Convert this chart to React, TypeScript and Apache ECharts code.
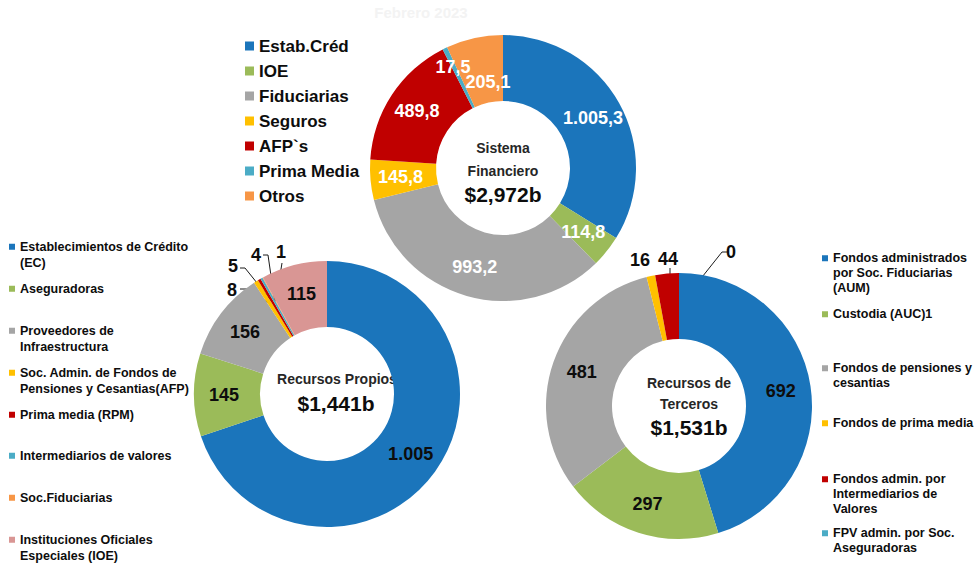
import React, { useEffect, useRef } from "react";
import * as echarts from "echarts";

const FONT = '"Liberation Sans", Arial, Helvetica, sans-serif';

// ---------------- data ----------------
const headerText = "Febrero 2023";

const sysCategories = ["Estab.Créd", "IOE", "Fiduciarias", "Seguros", "AFP`s", "Prima Media", "Otros"];
const sysValues = [1005.3, 114.8, 993.2, 145.8, 489.8, 17.5, 205.1];
const sysColors = ["#1B75BB", "#9BBB59", "#A5A5A5", "#FFC000", "#C00000", "#4BACC6", "#F79646"];
const sysCenterLines = ["Sistema", "Financiero"];
const sysTotal = "$2,972b";

const propCategories = [
  "Establecimientos de Crédito (EC)",
  "Aseguradoras",
  "Proveedores de Infraestructura",
  "Soc. Admin. de Fondos de Pensiones y Cesantias(AFP)",
  "Prima media (RPM)",
  "Intermediarios de valores",
  "Soc.Fiduciarias",
  "Instituciones Oficiales Especiales (IOE)",
];
const propLegendLabels = [
  "Establecimientos de Crédito\n(EC)",
  "Aseguradoras",
  "Proveedores de\nInfraestructura",
  "Soc. Admin. de Fondos de\nPensiones y Cesantias(AFP)",
  "Prima media (RPM)",
  "Intermediarios de valores",
  "Soc.Fiduciarias",
  "Instituciones Oficiales\nEspeciales (IOE)",
];
const propValues = [1005, 145, 156, 8, 5, 4, 1, 115];
const propColors = ["#1B75BB", "#9BBB59", "#A5A5A5", "#FFC000", "#C00000", "#4BACC6", "#F79646", "#D99694"];
const propCenterLines = ["Recursos Propios"];
const propTotal = "$1,441b";

const terCategories = [
  "Fondos administrados por Soc. Fiduciarias (AUM)",
  "Custodia (AUC)1",
  "Fondos de pensiones y cesantias",
  "Fondos de prima media",
  "Fondos admin. por Intermediarios de Valores",
  "FPV admin. por Soc. Aseguradoras",
];
const terLegendLabels = [
  "Fondos administrados\npor Soc. Fiduciarias\n(AUM)",
  "Custodia (AUC)1",
  "Fondos de pensiones y\ncesantias",
  "Fondos de prima media",
  "Fondos admin. por\nIntermediarios de\nValores",
  "FPV admin. por Soc.\nAseguradoras",
];
const terValues = [692, 297, 481, 16, 44, 0];
const terColors = ["#1B75BB", "#9BBB59", "#A5A5A5", "#FFC000", "#C00000", "#4BACC6"];
const terCenterLines = ["Recursos de", "Terceros"];
const terTotal = "$1,531b";

// ---------------- layout ----------------
const RADIUS = [67, 133];
const SYS = { cx: 503, cy: 168 };
const PROP = { cx: 327, cy: 394 };
const TER = { cx: 679, cy: 406 };

const propLegendY = [245, 287, 329, 371, 413, 454, 496, 538];
const terLegendY = [257, 313, 367, 422, 478, 532];

type Override = { at: [number, number]; line?: number[][]; r?: number };
const sysOverrides: Record<number, Override> = {
  5: { at: [453, 67] },
  6: { at: [488, 82] },
};
const propOverrides: Record<number, Override> = {
  3: { at: [232, 290], line: [[248, 289], [240, 289]], r: 106 },
  4: { at: [233, 266], line: [[245, 268], [240, 268]], r: 106 },
  5: { at: [256, 255], line: [[268, 255], [263, 255]], r: 106 },
  6: { at: [281, 252], line: [[282, 263]], r: 106 },
};
const terOverrides: Record<number, Override> = {
  3: { at: [640, 260] },
  4: { at: [668, 259], line: [[670, 268]] },
  5: { at: [731, 252], line: [[722, 252], [727, 252]] },
};

function esNum(v: number, d: number) {
  const s = v.toFixed(d);
  const [i, f] = s.split(".");
  const ii = i.replace(/\B(?=(\d{3})+(?!\d))/g, ".");
  return f ? ii + "," + f : ii;
}

function ringPoint(values: number[], idx: number, c: { cx: number; cy: number }, r: number) {
  const total = values.reduce((a, b) => a + b, 0);
  let before = 0;
  for (let i = 0; i < idx; i++) before += values[i];
  const ang = ((before + values[idx] / 2) / total) * Math.PI * 2;
  return [c.cx + r * Math.sin(ang), c.cy - r * Math.cos(ang)];
}

function makeLabelLayout(values: number[], c: { cx: number; cy: number }, ov: Record<number, Override>) {
  return (p: any) => {
    const o = ov[p.dataIndex];
    if (!o) return {};
    const res: any = { x: o.at[0], y: o.at[1], align: "center", verticalAlign: "middle" };
    if (o.line) {
      const r = o.r ?? (RADIUS[0] + RADIUS[1]) / 2;
      res.labelLinePoints = [ringPoint(values, p.dataIndex, c, r), ...o.line];
    }
    return res;
  };
}

function buildData(names: string[], values: number[], colors: string[], ov: Record<number, Override>, outsideAllowed: boolean) {
  return names.map((name, i) => {
    const item: any = { name, value: values[i], itemStyle: { color: colors[i] } };
    const o = ov[i];
    if (o && outsideAllowed) {
      item.label = { position: "outside" };
      item.labelLine = { show: o.line !== undefined };
    }
    return item;
  });
}

function txt(x: number, y: number, text: string, font: string, fill: string) {
  return {
    type: "text",
    x,
    y,
    silent: true,
    style: {
      text,
      font: font + " " + FONT,
      fill,
      align: "center",
      verticalAlign: "middle",
      textAlign: "center",
      textVerticalAlign: "middle",
    },
  };
}

// One legend per item so that each sits where the reference puts it. For wrapped
// names the icon is a square at the top of a taller (invisible) box, so that it
// lines up with the first line of the text.
function itemLegends(names: string[], labels: string[], ys: number[], left: number, fontSize: number, lh: number) {
  const sq = 6;
  return names.map((name, i) => {
    const n = labels[i].split("\n").length;
    const H = sq + (n - 1) * lh;
    const icon = n === 1 ? "rect" : `path://M0,0h${sq}v${sq}h-${sq}zM0,${H}h${sq}v0h-${sq}z`;
    return {
      left,
      top: ys[i] - fontSize / 2,
      padding: 0,
      orient: "vertical",
      icon,
      itemWidth: sq,
      itemHeight: H,
      selectedMode: false,
      data: [name],
      formatter: () => labels[i],
      textStyle: { fontFamily: FONT, fontSize, fontWeight: "bold", color: "#0D0D0D", lineHeight: lh },
    };
  });
}

export default function App() {
  const ref = useRef<HTMLDivElement>(null);
  useEffect(() => {
    document.body.style.margin = "0";
    const chart = echarts.init(ref.current!, undefined, { renderer: "svg" });
    const baseSeries = {
      type: "pie",
      radius: RADIUS,
      startAngle: 90,
      clockwise: true,
      avoidLabelOverlap: false,
      silent: true,
      itemStyle: { borderWidth: 0 },
      labelLine: { show: false, lineStyle: { color: "#1A1A1A", width: 1 } },
      emphasis: { disabled: true },
    };
    const option: any = {
      animation: false,
      backgroundColor: "#ffffff",
      legend: [
        {
          left: 245,
          top: 46 - 17 / 2,
          padding: 0,
          orient: "vertical",
          icon: "rect",
          itemWidth: 9,
          itemHeight: 9,
          itemGap: 8,
          selectedMode: false,
          data: sysCategories,
          textStyle: { fontFamily: FONT, fontSize: 17, fontWeight: "bold", color: "#0D0D0D" },
        },
        ...itemLegends(propCategories, propLegendLabels, propLegendY, 9, 12.5, 16),
        ...itemLegends(terCategories, terLegendLabels, terLegendY, 822, 12.5, 15),
      ],
      series: [
        {
          ...baseSeries,
          name: "Sistema Financiero",
          center: [SYS.cx, SYS.cy],
          label: {
            show: true,
            position: "inside",
            color: "#ffffff",
            fontFamily: FONT,
            fontSize: 18,
            fontWeight: "bold",
            formatter: (p: any) => esNum(p.value, 1),
          },
          labelLayout: makeLabelLayout(sysValues, SYS, sysOverrides),
          data: buildData(sysCategories, sysValues, sysColors, sysOverrides, false),
        },
        {
          ...baseSeries,
          name: "Recursos Propios",
          center: [PROP.cx, PROP.cy],
          label: {
            show: true,
            position: "inside",
            color: "#0D0D0D",
            fontFamily: FONT,
            fontSize: 18,
            fontWeight: "bold",
            formatter: (p: any) => esNum(p.value, 0),
          },
          labelLayout: makeLabelLayout(propValues, PROP, propOverrides),
          data: buildData(propCategories, propValues, propColors, propOverrides, true),
        },
        {
          ...baseSeries,
          name: "Recursos de Terceros",
          center: [TER.cx, TER.cy],
          label: {
            show: true,
            position: "inside",
            color: "#0D0D0D",
            fontFamily: FONT,
            fontSize: 18,
            fontWeight: "bold",
            formatter: (p: any) => esNum(p.value, 0),
          },
          labelLayout: makeLabelLayout(terValues, TER, terOverrides),
          data: buildData(terCategories, terValues, terColors, terOverrides, true),
        },
      ],
      graphic: [
        txt(421, 12, headerText, "bold 15px", "#F3F3F3"),
        ...sysCenterLines.map((t, i) => txt(503, 148 + i * 23, t, "bold 14px", "#262626")),
        txt(503, 194, sysTotal, "bold 21px", "#0D0D0D"),
        ...propCenterLines.map((t, i) => txt(337, 379 + i * 21, t, "bold 14px", "#262626")),
        txt(336, 403, propTotal, "bold 21px", "#0D0D0D"),
        ...terCenterLines.map((t, i) => txt(689, 383 + i * 21, t, "bold 14px", "#262626")),
        txt(689, 427, terTotal, "bold 21px", "#0D0D0D"),
      ],
    };
    chart.setOption(option);
    return () => chart.dispose();
  }, []);
  return <div ref={ref} style={{ width: 980, height: 564 }} />;
}
